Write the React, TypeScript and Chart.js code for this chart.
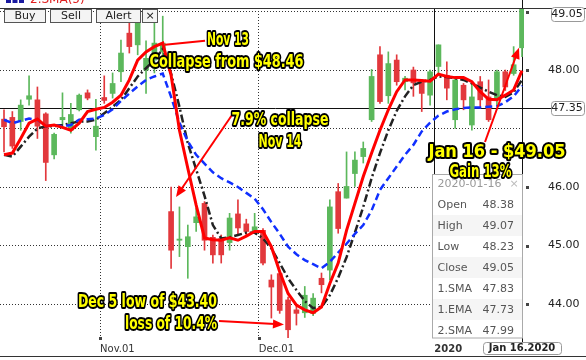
import React, { useEffect, useRef } from 'react';
import { Chart, registerables } from 'chart.js';

Chart.register(...registerables);

// ---- Candle data (one entry per trading day, Oct 2019 .. Jan 16 2020) ----
const OPEN = [
  47.16, 47.19, 47.12, 47.50, 47.49, 47.25, 46.55, 47.15, 46.97, 47.32,
  47.61, 46.86, 47.53, 47.60, 47.97, 48.63, 48.43, 48.00, 48.17, 48.31,
  45.58, 45.09, 44.98, 45.39, 45.72, 45.14, 45.12, 45.05, 45.54, 45.37,
  45.24, 45.26, 44.41, 44.52, 44.07, 43.90, 43.85, 43.84, 44.44, 44.58,
  45.92, 45.81, 46.23, 46.52, 47.15, 48.26, 47.56, 48.17, 47.80, 48.00,
  47.80, 47.57, 48.06, 47.91, 47.15, 47.74, 47.06, 47.80, 47.54, 47.49,
  47.97, 47.94, 48.38,
];
const HIGH = [
  47.32, 47.29, 47.49, 47.90, 47.71, 47.27, 46.92, 47.61, 47.43, 47.59,
  47.66, 47.50, 47.90, 47.95, 48.51, 48.97, 48.90, 48.50, 48.80, 48.92,
  46.00, 45.66, 45.35, 45.64, 45.75, 45.18, 45.18, 45.55, 45.78, 45.45,
  45.55, 45.29, 44.50, 44.55, 44.12, 43.98, 44.30, 44.18, 44.53, 45.78,
  46.06, 46.60, 46.60, 46.77, 48.01, 48.40, 48.31, 48.26, 47.89, 48.05,
  47.83, 48.00, 48.43, 48.14, 47.89, 47.77, 47.77, 47.89, 47.83, 48.00,
  48.00, 48.40, 49.07,
];
const LOW = [
  46.60, 46.66, 46.97, 47.40, 46.83, 46.11, 46.48, 47.00, 46.92, 47.30,
  47.49, 46.63, 47.43, 47.52, 47.80, 48.29, 48.26, 47.60, 47.95, 48.15,
  44.61, 44.81, 44.44, 45.24, 44.92, 44.70, 44.70, 44.92, 45.18, 45.15,
  45.21, 44.67, 43.76, 43.84, 43.40, 43.64, 43.77, 43.80, 44.19, 44.41,
  45.21, 45.81, 46.01, 46.41, 47.12, 47.43, 47.43, 47.74, 47.66, 47.55,
  47.29, 47.40, 47.91, 47.49, 47.00, 47.32, 46.97, 47.35, 47.12, 47.40,
  47.65, 47.91, 48.23,
];
const CLOSE = [
  47.03, 46.70, 47.40, 47.56, 47.04, 46.42, 46.90, 47.19, 47.24, 47.57,
  47.52, 47.04, 47.48, 47.77, 48.29, 48.40, 48.85, 48.20, 48.46, 48.46,
  44.92, 45.11, 45.15, 45.49, 45.09, 44.84, 44.84, 45.47, 45.30, 45.24,
  45.32, 44.70, 44.29, 43.89, 43.56, 43.84, 44.15, 44.10, 44.33, 45.66,
  45.29, 46.01, 46.46, 46.66, 47.89, 47.46, 48.11, 47.80, 47.86, 47.78,
  47.60, 47.97, 48.43, 47.69, 47.83, 47.49, 47.54, 47.49, 47.15, 47.97,
  47.71, 48.09, 49.05,
];

// ---- Moving averages as drawn ----
const SMA1 = [ // black dash-dot
  46.55, 46.52, 46.69, 46.86, 47.00, 47.04, 47.04, 47.06, 47.09, 47.12,
  47.12, 47.15, 47.26, 47.37, 47.49, 47.69, 47.89, 48.03, 48.17, 48.36,
  47.94, 47.37, 46.75, 46.30, 45.85, 45.35, 45.12, 45.14, 45.18, 45.22,
  45.22, 45.12, 44.95, 44.70, 44.44, 44.24, 44.05, 43.93, 43.95, 44.15,
  44.45, 44.80, 45.22, 45.66, 46.15, 46.58, 46.97, 47.30, 47.55, 47.74,
  47.80, 47.83, 47.89, 47.88, 47.86, 47.83, 47.77, 47.70, 47.63, 47.57,
  47.54, 47.62, 47.83,
];
const EMA1 = [ // blue dashed
  47.15, 47.09, 47.13, 47.17, 47.15, 47.04, 47.06, 47.04, 47.06, 47.15,
  47.16, 47.17, 47.23, 47.33, 47.47, 47.60, 47.72, 47.83, 47.89, 47.94,
  47.54, 47.10, 46.78, 46.55, 46.40, 46.25, 46.15, 46.08, 46.00, 45.90,
  45.80, 45.62, 45.40, 45.20, 44.98, 44.85, 44.75, 44.68, 44.61, 44.72,
  44.88, 45.03, 45.20, 45.35, 45.60, 45.95, 46.15, 46.35, 46.55, 46.72,
  46.95, 47.10, 47.22, 47.29, 47.33, 47.35, 47.36, 47.36, 47.37, 47.38,
  47.45, 47.55, 47.73,
];
const SMA2 = [ // red solid
  46.55, 46.58, 46.83, 47.09, 47.16, 47.04, 47.06, 47.02, 46.97, 47.09,
  47.29, 47.33, 47.36, 47.45, 47.57, 47.83, 48.17, 48.31, 48.40, 48.46,
  47.91, 46.97, 46.32, 45.69, 45.13, 45.10, 45.09, 45.13, 45.09, 45.16,
  45.24, 45.24, 44.98, 44.55, 44.18, 43.98, 43.90, 43.85, 43.95, 44.35,
  44.70, 45.26, 45.72, 46.18, 46.58, 46.97, 47.32, 47.63, 47.83, 47.83,
  47.82, 47.81, 47.93, 47.89, 47.87, 47.87, 47.80, 47.63, 47.50, 47.49,
  47.57, 47.66, 47.99,
];

// ---- Axis labels ----
const MONTH_START_INDEX = [12, 31, 52];
const X_TICK_LABELS = ['Nov.01', 'Dec.01', '2020'];
const Y_TICKS = [44, 45, 46, 47, 48, 49];
const Y_HIDDEN_LABELS = [47, 49];
const CROSS_PRICE = 47.35;
const CROSS_DATE_LABEL = 'Jan 16.2020';
const TOOLTIP_DATE = '2020-01-16';
const LEGEND_TEXT = '2.SMA(5)';
const BUTTONS = ['Buy', 'Sell', 'Alert', '×'];

// ---- Annotations (anchored in data coordinates) ----
const NOTES = [
  { text: 'Nov 13', i: 26.8, v: 48.43, w: 42, align: 'center' },
  { text: 'Collapse from $48.46', i: 26.63, v: 48.05, w: 154, align: 'center' },
  { text: '7.9% collapse', i: 33.03, v: 47.06, w: 97, align: 'center' },
  { text: 'Nov 14', i: 33.03, v: 46.69, w: 43, align: 'center' },
  { text: 'Jan 16 - $49.05', i: 59.0, v: 46.51, w: 139, align: 'center' },
  { text: 'Gain 13%', i: 57.03, v: 46.17, w: 62, align: 'center' },
  { text: 'Dec 5 low of $43.40', i: 25.49, v: 43.95, w: 139, align: 'right' },
  { text: 'loss of 10.4%', i: 25.49, v: 43.57, w: 92, align: 'right' },
];
const ARROWS = [
  { from: [24.06, 48.5], to: [19.27, 48.43], head: false },
  { from: [27.29, 47.23], to: [20.59, 45.83], head: true },
  { from: [25.73, 43.71], to: [33.51, 43.65], head: true },
  { from: [57.57, 46.77], to: [61.64, 48.38], head: true },
];

const GREEN = '#5cb85c';
const RED = '#e2383c';
const FONT = '"DejaVu Sans", Verdana, sans-serif';
const NOTE_FONT = 'bold 18px "Liberation Sans Narrow", "DejaVu Sans Condensed", "DejaVu Sans", sans-serif';

const N = CLOSE.length;
const LAST = N - 1;
const candleColors = CLOSE.map((c, i) => (c >= OPEN[i] ? GREEN : RED));

function drawArrow(ctx: CanvasRenderingContext2D, x1: number, y1: number, x2: number, y2: number, head: boolean) {
  const a = Math.atan2(y2 - y1, x2 - x1);
  const L = 11, W = 4.5;
  const ex = head ? x2 - (L - 2) * Math.cos(a) : x2;
  const ey = head ? y2 - (L - 2) * Math.sin(a) : y2;
  ctx.beginPath();
  ctx.moveTo(x1, y1);
  ctx.lineTo(ex, ey);
  ctx.stroke();
  if (!head) return;
  ctx.beginPath();
  ctx.moveTo(x2, y2);
  ctx.lineTo(x2 - L * Math.cos(a) + W * Math.sin(a), y2 - L * Math.sin(a) - W * Math.cos(a));
  ctx.lineTo(x2 - L * Math.cos(a) - W * Math.sin(a), y2 - L * Math.sin(a) + W * Math.cos(a));
  ctx.closePath();
  ctx.fill();
}

function boxLabel(ctx: CanvasRenderingContext2D, text: string, cx: number, cy: number, w: number, h: number, font: string) {
  ctx.beginPath();
  ctx.roundRect(Math.round(cx - w / 2) + 0.5, Math.round(cy - h / 2) + 0.5, w, h, 3);
  ctx.fillStyle = '#fff';
  ctx.fill();
  ctx.strokeStyle = '#999';
  ctx.lineWidth = 1;
  ctx.stroke();
  ctx.fillStyle = '#222';
  ctx.font = font;
  ctx.textAlign = 'center';
  ctx.textBaseline = 'middle';
  ctx.fillText(text, cx, cy + 0.5);
}

const overlay = {
  id: 'overlay',
  beforeDatasetsDraw(chart: any) {
    const { ctx, chartArea, scales } = chart;
    const { x, y } = scales;
    ctx.save();
    ctx.strokeStyle = '#111';
    ctx.lineWidth = 1;
    // year divider
    const px = Math.round(x.getPixelForValue(MONTH_START_INDEX[2] - 0.5)) + 0.5;
    ctx.beginPath();
    ctx.moveTo(px, chartArea.top);
    ctx.lineTo(px, chartArea.bottom);
    ctx.stroke();
    // crosshair horizontal
    const py = Math.round(y.getPixelForValue(CROSS_PRICE)) + 0.5;
    ctx.beginPath();
    ctx.moveTo(0, py);
    ctx.lineTo(551, py);
    ctx.stroke();
    // crosshair vertical
    const cx = Math.round(x.getPixelForValue(LAST)) + 0.5;
    ctx.beginPath();
    ctx.moveTo(cx, 0);
    ctx.lineTo(cx, chartArea.bottom + 4);
    ctx.stroke();
    ctx.restore();
  },
  afterDraw(chart: any) {
    const { ctx, chartArea, scales, width } = chart;
    const { x, y } = scales;
    ctx.save();

    // top border
    ctx.strokeStyle = '#333';
    ctx.lineWidth = 1;
    ctx.beginPath();
    ctx.moveTo(0, chartArea.top + 0.5);
    ctx.lineTo(width, chartArea.top + 0.5);
    ctx.stroke();
    // bottom border
    ctx.beginPath();
    ctx.moveTo(0, 356.5);
    ctx.lineTo(width, 356.5);
    ctx.stroke();

    // legend fragment (cut at top)
    ctx.fillStyle = '#1a1aa0';
    for (let k = 0; k < 3; k++) ctx.fillRect(6 + k * 6.5, 0, 5, 3);
    ctx.fillStyle = '#e02020';
    ctx.font = `12px ${FONT}`;
    ctx.textAlign = 'left';
    ctx.textBaseline = 'alphabetic';
    ctx.fillText(LEGEND_TEXT, 30, 3);

    // buttons
    const btnX = [4, 50, 96, 142];
    const btnW = [41, 41, 44, 15];
    BUTTONS.forEach((b, k) => {
      ctx.fillStyle = '#f4f4f4';
      ctx.fillRect(btnX[k] + 0.5, 9.5, btnW[k], 13);
      ctx.strokeStyle = '#555';
      ctx.strokeRect(btnX[k] + 0.5, 9.5, btnW[k], 13);
      ctx.fillStyle = '#222';
      ctx.font = `11px ${FONT}`;
      ctx.textAlign = 'center';
      ctx.textBaseline = 'middle';
      ctx.fillText(b, btnX[k] + btnW[k] / 2 + 0.5, 16.5);
    });

    // tick squares
    ctx.fillStyle = '#444';
    Y_TICKS.forEach((v) => {
      if (v === 47) return;
      const py = Math.round(y.getPixelForValue(v));
      ctx.fillRect(chartArea.right + 2, py - 1, 3, 3);
    });
    MONTH_START_INDEX.slice(0, 2).forEach((m) => {
      const px = Math.round(x.getPixelForValue(m - 0.5));
      ctx.fillRect(px - 1, chartArea.bottom - 1, 3, 3);
    });

    // price boxes
    const lastY = Math.max(y.getPixelForValue(CLOSE[LAST]), chartArea.top + 6);
    boxLabel(ctx, CLOSE[LAST].toFixed(2), 567, lastY, 33, 14, `11px ${FONT}`);
    boxLabel(ctx, CROSS_PRICE.toFixed(2), 567, y.getPixelForValue(CROSS_PRICE), 33, 14, `11px ${FONT}`);
    // date box
    const cx = x.getPixelForValue(LAST);
    boxLabel(ctx, CROSS_DATE_LABEL, cx, 347.5, 78, 12, `bold 10px ${FONT}`);

    // tooltip panel
    const right = Math.round(cx) + 0.5;
    const left = right - 90;
    const bottom = chartArea.bottom;
    const top = bottom - 164;
    ctx.fillStyle = '#fff';
    ctx.fillRect(left, top, 90, bottom - top);
    const rows: [string, number][] = [
      ['Open', OPEN[LAST]], ['High', HIGH[LAST]], ['Low', LOW[LAST]], ['Close', CLOSE[LAST]],
      ['1.SMA', SMA1[LAST]], ['1.EMA', EMA1[LAST]], ['2.SMA', SMA2[LAST]],
    ];
    rows.forEach((r, k) => {
      const rt = top + 20 + 21 * k;
      if (k % 2 === 1) {
        ctx.fillStyle = '#f5f5f5';
        ctx.fillRect(left, rt, 90, Math.min(21, bottom - rt));
      }
    });
    ctx.strokeStyle = '#aaa';
    ctx.strokeRect(left, top + 0.5, 90, bottom - top - 0.5);
    ctx.font = `11px ${FONT}`;
    ctx.textBaseline = 'middle';
    ctx.textAlign = 'left';
    ctx.fillStyle = '#999';
    ctx.fillText(TOOLTIP_DATE, left + 5, top + 10);
    ctx.fillStyle = '#bbb';
    ctx.fillText('×', right - 13, top + 10);
    rows.forEach((r, k) => {
      const cy = top + 31 + 21 * k;
      ctx.fillStyle = '#555';
      ctx.fillText(r[0], left + 5, cy);
      ctx.fillText(r[1].toFixed(2), left + 50, cy);
    });

    // arrows
    ctx.strokeStyle = '#ff0000';
    ctx.fillStyle = '#ff0000';
    ctx.lineWidth = 2;
    ARROWS.forEach((a) => {
      drawArrow(
        ctx,
        x.getPixelForValue(a.from[0]), y.getPixelForValue(a.from[1]),
        x.getPixelForValue(a.to[0]), y.getPixelForValue(a.to[1]),
        a.head,
      );
    });

    // annotation texts
    ctx.font = NOTE_FONT;
    ctx.textBaseline = 'alphabetic';
    ctx.lineJoin = 'round';
    NOTES.forEach((n) => {
      const px = x.getPixelForValue(n.i);
      const py = y.getPixelForValue(n.v);
      ctx.textAlign = n.align as CanvasTextAlign;
      ctx.strokeStyle = '#000';
      ctx.lineWidth = 4;
      ctx.strokeText(n.text, px, py, n.w);
      ctx.fillStyle = '#ffff00';
      ctx.fillText(n.text, px, py, n.w);
    });

    ctx.restore();
  },
};

export default function App() {
  const ref = useRef<HTMLCanvasElement | null>(null);

  useEffect(() => {
    document.body.style.margin = '0';
    document.body.style.background = '#fff';
    const canvas = ref.current;
    if (!canvas) return;
    const idx = CLOSE.map((_, i) => i);

    const chart = new Chart(canvas, {
      type: 'bar',
      data: {
        datasets: [
          {
            type: 'line',
            label: '2.SMA',
            data: idx.map((i) => ({ x: i, y: SMA2[i] })),
            borderColor: '#ff0000',
            borderWidth: 3,
            pointRadius: 0,
            tension: 0,
            fill: false,
            order: 1,
          } as any,
          {
            type: 'line',
            label: '1.EMA',
            data: idx.map((i) => ({ x: i, y: EMA1[i] })),
            borderColor: '#1030ff',
            borderWidth: 2.5,
            borderDash: [7, 4],
            pointRadius: 0,
            tension: 0,
            fill: false,
            order: 2,
          } as any,
          {
            type: 'line',
            label: '1.SMA',
            data: idx.map((i) => ({ x: i, y: SMA1[i] })),
            borderColor: '#222',
            borderWidth: 2.5,
            borderDash: [8, 3, 2, 3],
            pointRadius: 0,
            tension: 0,
            fill: false,
            order: 3,
          } as any,
          {
            type: 'bar',
            label: 'body',
            data: idx.map((i) => ({ x: i, y: [OPEN[i], CLOSE[i]] })),
            backgroundColor: candleColors,
            borderWidth: 0,
            barThickness: 5,
            minBarLength: 1,
            grouped: false,
            order: 9,
          } as any,
          {
            type: 'bar',
            label: 'wick',
            data: idx.map((i) => ({ x: i, y: [LOW[i], HIGH[i]] })),
            backgroundColor: candleColors,
            borderWidth: 0,
            barThickness: 1,
            grouped: false,
            order: 10,
          } as any,
        ],
      },
      options: {
        responsive: false,
        maintainAspectRatio: false,
        devicePixelRatio: 1,
        animation: false,
        layout: { padding: { top: 8, left: 0, right: 0, bottom: 0 } },
        plugins: { legend: { display: false }, tooltip: { enabled: false } },
        scales: {
          x: {
            type: 'linear',
            position: 'bottom',
            offset: false,
            min: -0.4788,
            max: 62.239,
            afterBuildTicks: (scale: any) => {
              scale.ticks = MONTH_START_INDEX.map((m) => ({ value: m - 0.5 }));
            },
            afterFit: (scale: any) => {
              scale.height = 22;
            },
            ticks: {
              autoSkip: false,
              maxRotation: 0,
              align: 'start',
              padding: 5,
              color: '#333',
              font: (c: any) => ({ family: FONT, size: 10, weight: c.index === 2 ? 'bold' : 'normal' }),
              callback: (_v: any, i: number) => X_TICK_LABELS[i],
            },
            grid: {
              offset: false,
              drawTicks: false,
              color: (c: any) => (c.index === 2 ? 'rgba(0,0,0,0)' : '#333'),
              lineWidth: 1,
            },
            border: { display: false, dash: [1, 2] },
          },
          y: {
            type: 'linear',
            position: 'right',
            min: 43.419,
            max: 49.06,
            afterBuildTicks: (scale: any) => {
              scale.ticks = Y_TICKS.map((v) => ({ value: v }));
            },
            afterFit: (scale: any) => {
              scale.width = 62;
            },
            ticks: {
              padding: 0,
              color: '#222',
              font: { family: FONT, size: 11 },
              callback: (v: any) => (Y_HIDDEN_LABELS.includes(Number(v)) ? '' : Number(v).toFixed(2)),
            },
            grid: {
              drawTicks: true,
              tickLength: 24,
              tickColor: 'rgba(0,0,0,0)',
              color: '#333',
              lineWidth: 1,
            },
            border: { display: false, dash: [1, 2] },
          },
        },
      } as any,
      plugins: [overlay],
    });

    return () => chart.destroy();
  }, []);

  return <canvas ref={ref} width={586} height={360} style={{ display: 'block' }} />;
}
